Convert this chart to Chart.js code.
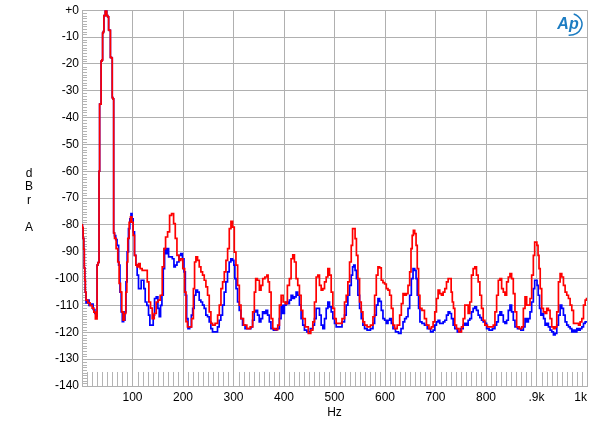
<!DOCTYPE html>
<html lang="en">
<head>
    <meta charset="UTF-8">
    <title>FFT spectrum</title>
    <script src="https://cdn.jsdelivr.net/npm/chart.js"></script>
    <style>
        html, body { margin: 0; padding: 0; background: #fff; }
        #wrap { width: 600px; height: 429px; position: relative; }
    </style>
</head>
<body>
<div id="wrap"><canvas id="spectrum"></canvas></div>
<script>
    // tick values and labels
    const xTickValues = [0, 100, 200, 300, 400, 500, 600, 700, 800, 900, 1000];
    const xTickLabels = ['', '100', '200', '300', '400', '500', '600', '700', '800', '.9k', '1k'];
    const yTickValues = [0, -10, -20, -30, -40, -50, -60, -70, -80, -90, -100, -110, -120, -130, -140];
    const yTickLabels = ['+0', '-10', '-20', '-30', '-40', '-50', '-60', '-70', '-80', '-90', '-100', '-110', '-120', '-130', '-140'];
    const yAxisLetters = ['d', 'B', 'r', '', 'A'];

    // red trace [Hz, dBrA]
    const redTrace = [
        [0,-80],[1.5,-81],[3,-85],[4,-89],[5,-96],[6,-100.5],[7,-105],[9,-108],[14,-109],[18,-110],[22,-111],[25,-112.5],[28,-115],[29.5,-115],[30.2,-95],[33,-94],
        [34.5,-60],[35.3,-35],[37.1,-35],[38.5,-19],[40.5,-18.5],[41.1,-8.5],[43.1,-8],[43.7,-2],[45.5,-2],[46.5,0],[48.5,0],[49.6,-2],[52.4,-2.5],[53,-7.3],[55.6,-7.5],[56.9,-17.6],[59.6,-17.8],[60.2,-32.6],[62.2,-33],[63.2,-83],
        [65.6,-85],[69.5,-88.8],[72.2,-93.8],[74.8,-101.8],[77.5,-105],[80.1,-112.4],[82.8,-115.5],[85.4,-113],[88.1,-105],[89.4,-93.8],[92,-85],[94.7,-79],[97.3,-77],[100,-79],[102.6,-83.9],[105.3,-91.3],[107.9,-95],[110.6,-95.6],[113.2,-94.4],[117.2,-96.3],[121,-96.9],[128,-96.9],[130.4,-101.2],[134.4,-108.7],[137.1,-111],[141,-114.9],[145,-113],[149,-108.7],[152.9,-108],[156.9,-106.2],[160.9,-95.6],[163.5,-88.8],[167.5,-84.5],[171.5,-82.6],[175.4,-76.4],[179.4,-75.8],[183.4,-79.5],[186,-85],[190,-91.3],[194,-93.2],
        [197.3,-92.6],[201.9,-96.3],[204.6,-105],[207.2,-116],[210.5,-118],[215,-118],[219.2,-114.9],[221.9,-103.7],[223.9,-93.8],[227.2,-91.9],[230.5,-93.2],[233.8,-95.6],[237.1,-97.5],[240.4,-98.7],[243.7,-100.6],[247,-103.1],[250.3,-106.2],[253.6,-112.4],[256.9,-116.7],[260.2,-117.3],[266.9,-116.7],[270.2,-113.6],[273.5,-109.9],[276.8,-103.7],[280.1,-101.2],[283.4,-97.5],[286.7,-93.2],[290,-88.8],[293.3,-81.4],[296.6,-78.7],[299.9,-80.8],
        [303.2,-90.1],[306.5,-95],[309.9,-102.5],[313.2,-109.9],[316.5,-114.9],[323.1,-117.3],[329.7,-118.6],[336.3,-118],[339.6,-112.4],[342.9,-105],[344.9,-100],[349.6,-100.6],[352.9,-104.3],[356.2,-102.5],[359.5,-100],[364.8,-99.4],[367.5,-98.7],[369.5,-101.2],[372.8,-105],[376.1,-114.9],[379.4,-118.6],[386,-119],[389.3,-117.3],[392.6,-109.9],[396,-106.2],
        [400.5,-108.7],[404.4,-109.3],[409,-102.5],[412.4,-100],[415.7,-92.6],[419,-91.1],[422.3,-93.8],[425.6,-100],[428.9,-102.5],[432.2,-106.2],[435.5,-111.8],[438.8,-114.9],[445.4,-118],[450.7,-120.4],[455.4,-119.2],[458.7,-116.1],[462,-108.7],[465.3,-99.4],[468.6,-98.7],[471.9,-102.5],[475.3,-104.3],[478.6,-103.7],[481.9,-101.2],[485.2,-99.4],[488.5,-96.3],[491.8,-98.7],[495.1,-105],[498.4,-111.1],
        [501.7,-114.9],[505,-116.7],[511.6,-116.7],[518.2,-114.9],[521.5,-108.7],[524.8,-106.2],[528.2,-101.2],[531.5,-93.8],[534.8,-87.6],[536.8,-81.4],[539.4,-81.4],[542.1,-85.1],[544.7,-91.3],[548,-100],[551.3,-108.7],[554.6,-112.4],[557.9,-116.1],[561.2,-117.3],[567.8,-118],[574.5,-117.3],[577.8,-114.2],[581.1,-106.2],[584.4,-98.7],[587.7,-95.6],[591,-96],[594.3,-100.6],[597.6,-101.5],
        [600.9,-102],[604.3,-103.7],[607.6,-104.3],[610.9,-106.2],[614.2,-111.1],[617.5,-117.3],[620.8,-118.6],[627.4,-117.3],[630.7,-113.6],[634,-109.3],[637.3,-105.6],[640.6,-106.2],[643.9,-105.6],[647.2,-102.5],[650.5,-97.5],[652.5,-88.8],[655.2,-83.9],[657.2,-82],[660.5,-83.2],[662.5,-87.6],[665.2,-96.3],[667.8,-106.2],[670.5,-111.1],[675.8,-111.8],[680.4,-114.9],[683.7,-117.3],[690.3,-118.6],[693.6,-118],[696.9,-116.1],
        [700.2,-112.4],[703.5,-107.4],[706.8,-104.3],[710.1,-105.6],[713.5,-106.2],[716.8,-105],[720.1,-103.7],[723.4,-101.2],[726.7,-100],[730,-100],[732,-105],[734.6,-108.7],[736.6,-111.1],[739.9,-117.3],[743.2,-118.6],[749.8,-119.8],[753.1,-118],[756.4,-114.9],[759.7,-109.9],[763,-109.9],[766.3,-113],[769.6,-108.7],[772.9,-98.7],[776.2,-96.3],[779.5,-95.6],[782.8,-98.7],[786.2,-101.2],[789.5,-106.2],[792.8,-111.1],[796.1,-115.5],[799.4,-117.3],
        [806.1,-118],[812.7,-118],[816,-117.3],[819.4,-112.4],[822.7,-106.2],[826,-100.6],[829.3,-100],[832.6,-103.7],[835.9,-105],[839.2,-106.2],[842.5,-101.2],[845.8,-99.4],[849.1,-98.1],[852.4,-100],[855.7,-105.6],[859,-112.4],[862.4,-118],[869,-118.6],[872.3,-118],[875.6,-111.1],[878.9,-106.8],[882.2,-109.9],[885.5,-109.9],[888.8,-107.4],[892.1,-98.7],[895.4,-91.3],[897.4,-86.4],[899.4,-86.4],
        [902.1,-87.6],[904,-91.3],[906,-96.3],[908.7,-103.7],[912,-111.1],[915.3,-112.4],[918.6,-113],[921.9,-111.1],[925.2,-111.8],[928.5,-114.9],[931.9,-118],[935.2,-118.6],[938.5,-118],[941.8,-112.4],[945.1,-101.2],[948.4,-98.1],[951.7,-99.4],[955,-102.5],[958.3,-105],[961.6,-106.2],[964.9,-107.4],[968.2,-109.9],[971.6,-111.8],[974.9,-116.7],[981.5,-116.7],[984.8,-117.3],[988.1,-116.1],[991.4,-114.9],[994.7,-109.9],[998,-108],[1000,-107.4]
    ];

    // blue trace [Hz, dBrA]
    const blueTrace = [
        [0,-80],[1.5,-81],[3,-85],[4,-89],[5,-96],[6,-100.5],[7,-105],[9,-109],[12,-108],[16,-110],[20,-109.5],[24,-111.5],[27,-113],[29.5,-114],[30.2,-95],[33,-94],
        [34.5,-60],[35.3,-35],[37.1,-35],[38.5,-19],[40.5,-18.5],[41.1,-8.5],[43.1,-8],[43.7,-2],[45.5,-2],[46.5,0],[48.5,0],[49.6,-2],[52.4,-2.5],[53,-7.3],[55.6,-7.5],[56.9,-17.6],[59.6,-17.8],[60.2,-32.6],[62.2,-33],[63.2,-83],
        [65.6,-84],[68,-85.5],[70.8,-87.6],[74.2,-95],[76.2,-105],[78.8,-112.4],[80.8,-116],[84.1,-115.5],[86.1,-112.4],[88.1,-101.2],[90.7,-90],[93.4,-81.4],[96,-77.7],[98,-75.8],[100,-77.7],[102.6,-82.6],[105.3,-91.3],[107.9,-95],[110.6,-98.7],[113.2,-103.7],[115.9,-103.7],[118.5,-100.6],[121.2,-100.6],[123.8,-103.7],[126.5,-108.7],[130.4,-110],[133.1,-113.6],[135.7,-117.3],[139.7,-117.3],[142.3,-113.6],[145,-107.4],[149,-106.8],[151.6,-111.1],[154.3,-114.2],[156.9,-110],[159.6,-106.2],[162.2,-96.3],[164.9,-88.8],[167.5,-90.7],[170.2,-88.8],[172.8,-91.9],[176.8,-91.9],[180.8,-92.6],[183.4,-95.6],[186.1,-95],[190,-93.8],[194,-91.3],[197.3,-90.7],[200.6,-92.6],
        [203.3,-97.5],[205.9,-106.2],[208.6,-114.9],[211.2,-118.6],[215.2,-118],[217.8,-113.6],[220.5,-111.1],[223.8,-106.2],[227.1,-104.3],[230.4,-105],[233.7,-108],[237,-108.7],[240.3,-109.9],[243.6,-111.1],[246.9,-113.6],[250.2,-114.2],[253.5,-116.1],[256.8,-118.6],[260.1,-119.8],[266.7,-119.8],[270,-118],[273.3,-115.5],[276.6,-113.6],[279.9,-109.9],[283.2,-105],[286.5,-101.2],[289.8,-97.5],[293.1,-93.8],[296.4,-92.6],[299.7,-93.2],
        [301.7,-95],[303.7,-100],[306.4,-103.7],[309.7,-108.7],[313,-111.8],[316.3,-114.9],[319.6,-117.3],[326.2,-118.6],[332.8,-118.6],[336.1,-118],[339.4,-115.5],[342.7,-112.4],[346,-111.8],[349.3,-113.6],[352.6,-116.1],[355.9,-114.9],[359.2,-112.4],[362.5,-113],[365.9,-111.8],[369.2,-113.6],[372.5,-116.1],[375.8,-118.6],[382.4,-119.2],[389,-118.6],[392.5,-114.9],[395.8,-110],[399.1,-113],
        [402.4,-109.9],[405.7,-108.7],[409,-109.3],[412.4,-108],[415.7,-106.2],[419,-107.4],[422.3,-106.8],[425.6,-105],[428.9,-106.2],[432.2,-109.9],[435.5,-114.9],[438.8,-117.3],[442.1,-119.2],[448.7,-119.8],[455.4,-118.6],[458.7,-117.3],[462,-114.9],[465.3,-111.1],[468.6,-111.1],[471.9,-113.6],[475.3,-117.3],[478.6,-118.6],[481.9,-114.9],[485.2,-111.1],[488.5,-108.7],[491.8,-110.5],[495.1,-112.4],[498.4,-114.9],
        [501.7,-116.7],[505,-118],[511.6,-118],[518.2,-116.1],[521.5,-113.6],[524.8,-109.9],[528.2,-106.2],[531.5,-102.5],[534.8,-98.7],[536.8,-95.6],[539.4,-95],[542.1,-96.9],[544.7,-100],[548,-106.2],[551.3,-111.1],[554.6,-114.9],[557.9,-117.3],[561.2,-118.6],[567.8,-119.2],[574.5,-118.6],[577.8,-116.7],[581.1,-113.6],[584.4,-109.9],[587.7,-107.4],[591,-108.5],[594.3,-111.8],[597.6,-114.9],
        [600.9,-115.5],[604.3,-116.7],[607.6,-115.5],[610.9,-114.9],[614.2,-116.7],[617.5,-118.6],[624.1,-119.8],[629.4,-120.4],[634,-118.6],[637.3,-116.1],[640.6,-114.9],[643.9,-114.2],[647.2,-111.1],[650.5,-106.2],[653.8,-100],[657.2,-96.3],[660.5,-96.9],[662.5,-100],[665.2,-106.2],[667.8,-111.1],[670.5,-116.1],[675.8,-116.7],[680.4,-117.3],[687,-118.6],[693.6,-119.8],[696.9,-119.2],
        [700.2,-117.3],[703.5,-116.1],[706.8,-115.5],[710.1,-116.7],[713.5,-116.7],[716.8,-116.1],[720.1,-115.5],[723.4,-113.6],[726.7,-112.4],[730,-113],[733.3,-114.9],[736.6,-117.3],[739.9,-118.6],[746.5,-119.8],[753.1,-118.6],[756.4,-117.3],[759.7,-116.7],[763,-117.3],[766.3,-115.5],[769.6,-114.9],[772.9,-112.4],[776.2,-111.1],[779.5,-110.5],[782.8,-111.8],[786.2,-113.6],[789.5,-114.5],[792.8,-115.5],[796.1,-116.1],[799.5,-116.7],
        [802.8,-118.6],[809.4,-119.2],[816,-118.6],[819.4,-117.3],[822.7,-116.1],[826,-113.6],[829.3,-112.4],[832.6,-113.6],[835.9,-116.1],[839.2,-116.7],[842.5,-115.5],[845.8,-111.8],[849.1,-109.9],[852.4,-112.4],[855.7,-115.5],[859,-118],[865.7,-118.6],[872.3,-119.2],[875.6,-118],[878.9,-114.9],[882.2,-116.1],[885.5,-114.9],[888.8,-112.4],[892.1,-108.7],[895.4,-103.7],[897.4,-100.6],[900,-100.6],
        [902.1,-102.5],[904.7,-106.2],[907.4,-111.1],[910,-113.6],[912.7,-113],[915.3,-114.9],[918.6,-117.3],[921.9,-116.7],[925.2,-118],[928.5,-119.2],[931.9,-119.8],[935.2,-121],[938.5,-120.4],[941.8,-117.3],[945.1,-113.6],[948.4,-109.9],[951.7,-111.1],[955,-113.6],[958.3,-116.1],[961.6,-117.3],[964.9,-118],[968.2,-118.6],[971.6,-119.8],[974.9,-119.2],[978.2,-119.8],[981.5,-118.6],[984.8,-119.2],[988.1,-118.6],[991.4,-118],[994.7,-116.7],[998,-116.1],[1000,-116.1]
    ];

    const FONT = "'Liberation Sans', Arial, sans-serif";
    const GRID = '#b0b0b0';

    // minor ticks, y label letters and the logo
    const decorations = {
        id: 'decorations',
        beforeDatasetsDraw(chart) {
            const { ctx, chartArea: a, scales } = chart;
            ctx.save();
            ctx.strokeStyle = '#b4b4b4';
            ctx.lineWidth = 1;
            ctx.beginPath();
            for (let v = 10; v < 1000; v += 10) {
                if (v % 100 === 0) continue;
                const px = Math.round(scales.x.getPixelForValue(v)) + 0.5;
                ctx.moveTo(px, a.bottom);
                ctx.lineTo(px, a.bottom - 14);
            }
            for (let v = -139; v < 0; v++) {
                if (v % 10 === 0) continue;
                const py = Math.round(scales.y.getPixelForValue(v)) + 0.5;
                ctx.moveTo(a.left, py);
                ctx.lineTo(a.left + 5, py);
            }
            ctx.stroke();
            ctx.restore();
        },
        afterDraw(chart) {
            const { ctx, chartArea: a } = chart;
            ctx.save();
            ctx.fillStyle = '#000';
            ctx.font = '12px ' + FONT;
            ctx.textAlign = 'center';
            ctx.textBaseline = 'middle';
            yAxisLetters.forEach((ch, i) => {
                ctx.fillText(ch, a.left - 53, a.top + 163 + i * 13.5);
            });
            // Ap logo
            const lx = a.right - 18, ly = a.top + 14;
            ctx.fillStyle = '#1c7cc2';
            ctx.font = 'italic bold 16px ' + FONT;
            ctx.fillText('Ap', lx - 1, ly);
            ctx.strokeStyle = '#1c7cc2';
            ctx.lineWidth = 1.5;
            ctx.beginPath();
            ctx.ellipse(lx, ly, 13, 11, 0, -1.2, 1.6);
            ctx.stroke();
            ctx.restore();
        }
    };

    new Chart(document.getElementById('spectrum'), {
        type: 'line',
        data: {
            datasets: [
                {
                    label: 'red',
                    data: redTrace.map(p => ({ x: p[0], y: p[1] })),
                    borderColor: '#ff0000',
                    borderWidth: 1.7,
                    pointRadius: 0,
                    stepped: 'middle'
                },
                {
                    label: 'blue',
                    data: blueTrace.map(p => ({ x: p[0], y: p[1] })),
                    borderColor: '#0000ff',
                    borderWidth: 1.7,
                    pointRadius: 0,
                    stepped: 'middle'
                }
            ]
        },
        options: {
            responsive: true,
            maintainAspectRatio: false,
            animation: false,
            layout: { padding: { top: 9, right: 13, left: 0, bottom: 0 } },
            plugins: { legend: { display: false }, tooltip: { enabled: false } },
            scales: {
                x: {
                    type: 'linear',
                    min: 0,
                    max: 1000,
                    afterBuildTicks: s => { s.ticks = xTickValues.map(v => ({ value: v })); },
                    afterFit: s => { s.height = 43; },
                    ticks: {
                        color: '#000',
                        font: { family: FONT, size: 12 },
                        padding: 4,
                        maxRotation: 0,
                        autoSkip: false,
                        align: 'inner',
                        callback: (v) => xTickLabels[xTickValues.indexOf(v)]
                    },
                    grid: { color: GRID, drawTicks: false },
                    border: { color: GRID },
                    title: {
                        display: true,
                        text: 'Hz',
                        color: '#000',
                        font: { family: FONT, size: 12 },
                        padding: { top: 0, bottom: 9 }
                    }
                },
                y: {
                    type: 'linear',
                    min: -140,
                    max: 0,
                    afterBuildTicks: s => { s.ticks = yTickValues.map(v => ({ value: v })); },
                    afterFit: s => { s.width = 82; },
                    ticks: {
                        color: '#000',
                        font: { family: FONT, size: 12 },
                        padding: 3,
                        autoSkip: false,
                        callback: (v) => yTickLabels[yTickValues.indexOf(v)]
                    },
                    grid: { color: GRID, drawTicks: false },
                    border: { color: GRID }
                }
            }
        },
        plugins: [decorations]
    });
</script>
</body>
</html>
